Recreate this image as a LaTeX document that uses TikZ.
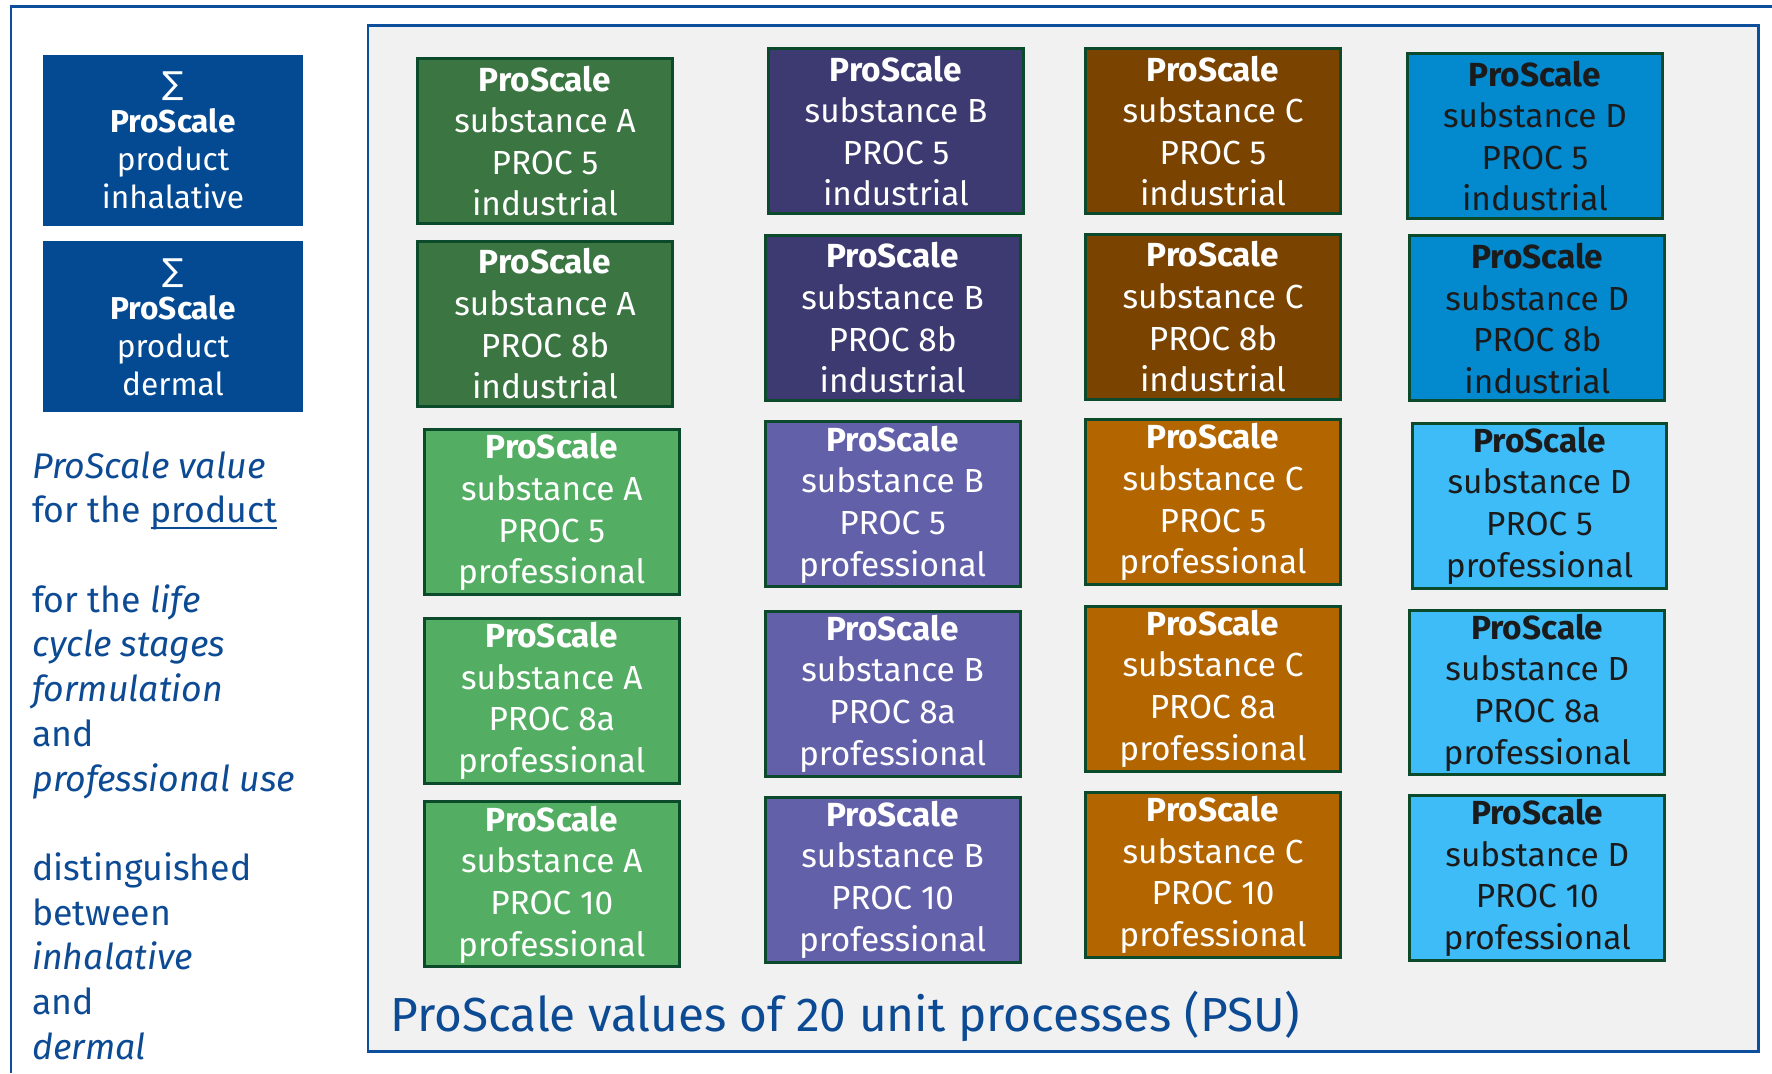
\documentclass[tikz,border=0pt]{standalone}
\usepackage{fontspec}
\setmainfont{Fira Sans}
\newfontfamily\symfont{DejaVu Sans}
\usetikzlibrary{positioning}
\definecolor{frameblue}{HTML}{0D4F9C}
\definecolor{textblue}{HTML}{0C4A94}
\definecolor{sumblue}{HTML}{034A93}
\definecolor{panelgray}{HTML}{F1F1F1}
\definecolor{psuedge}{HTML}{0B4B2B}
\definecolor{greendark}{HTML}{3A7542}
\definecolor{greenlight}{HTML}{53AD62}
\definecolor{violetdark}{HTML}{3C3A70}
\definecolor{violetlight}{HTML}{6360AA}
\definecolor{browndark}{HTML}{7A4400}
\definecolor{brownlight}{HTML}{B36500}
\definecolor{cyandark}{HTML}{0289CE}
\definecolor{cyanlight}{HTML}{3DBCF8}
\definecolor{darktext}{HTML}{1B1B1B}
\newcommand{\psutext}[3]{\textbf{ProScale}\\substance #1\\PROC #2\\#3}
\newcommand{\ulword}[1]{\setbox0\hbox{#1}\rlap{\rule[-3.6pt]{\wd0}{1.5pt}}\box0}

\begin{document}
\begin{tikzpicture}[x=0.02cm, y=-0.02cm, on grid,
  frame/.style={draw=frameblue, line width=1.7pt},
  sumbox/.style={fill=sumblue, minimum width=5.2cm, minimum height=3.42cm, inner sep=0pt,
    align=center, text=white, font=\fontsize{18}{21.6}\selectfont},
  psu/.style={draw=psuedge, line width=1.7pt, minimum width=5.1cm, minimum height=3.3cm,
    inner sep=0pt, align=center, text=white, font=\fontsize{19}{23.7}\selectfont},
  aind/.style={psu, fill=greendark}, apro/.style={psu, fill=greenlight},
  bind/.style={psu, fill=violetdark}, bpro/.style={psu, fill=violetlight},
  cind/.style={psu, fill=browndark}, cpro/.style={psu, fill=brownlight},
  dind/.style={psu, fill=cyandark, text=darktext}, dpro/.style={psu, fill=cyanlight, text=darktext}]
\useasboundingbox (0,0) rectangle (1772,1073);
\draw[frame] (1772,6) -| (11,1073);
\draw[frame, fill=panelgray] (368,25) rectangle (1758,1051);

\node[sumbox] (suminh) at (173,140.5) {{\symfont ∑}\\\textbf{ProScale}\\product\\inhalative};
\node[sumbox] (sumder) [below=3.73cm of suminh] {{\symfont ∑}\\\textbf{ProScale}\\product\\dermal};
\node[anchor=north west, inner sep=0pt, align=left, text=textblue,
  font=\fontsize{20.3}{25.45}\selectfont] (legend) at (32,451)
  {\textit{ProScale value}\\for the \ulword{product}\\[25.45pt]
   for the \textit{life}\\\textit{cycle stages}\\\textit{formulation}\\and\\\textit{professional use}\\[25.45pt]
   distinguished\\between\\\textit{inhalative}\\and\\\textit{dermal}};

\node[aind] (a1) at (545,141) {\psutext{A}{5}{industrial}};
\node[aind] (a2) [below=3.66cm of a1] {\psutext{A}{8b}{industrial}};
\node[apro] (a3) [below=3.764cm of a2, xshift=0.136cm] {\psutext{A}{5}{professional}};
\node[apro] (a4) [below=3.776cm of a3] {\psutext{A}{8a}{professional}};
\node[apro] (a5) [below=3.672cm of a4] {\psutext{A}{10}{professional}};

\node[bind] (b1) at (896,131) {\psutext{B}{5}{industrial}};
\node[bind] (b2) [below=3.74cm of b1, xshift=-0.068cm] {\psutext{B}{8b}{industrial}};
\node[bpro] (b3) [below=3.73cm of b2] {\psutext{B}{5}{professional}};
\node[bpro] (b4) [below=3.786cm of b3] {\psutext{B}{8a}{professional}};
\node[bpro] (b5) [below=3.718cm of b4] {\psutext{B}{10}{professional}};

\node[cind] (c1) at (1213,131) {\psutext{C}{5}{industrial}};
\node[cind] (c2) [below=3.718cm of c1] {\psutext{C}{8b}{industrial}};
\node[cpro] (c3) [below=3.706cm of c2] {\psutext{C}{5}{professional}};
\node[cpro] (c4) [below=3.73cm of c3] {\psutext{C}{8a}{professional}};
\node[cpro] (c5) [below=3.728cm of c4] {\psutext{C}{10}{professional}};

\node[dind] (d1) at (1535,136) {\psutext{D}{5}{industrial}};
\node[dind] (d2) [below=3.65cm of d1, xshift=0.046cm] {\psutext{D}{8b}{industrial}};
\node[dpro] (d3) [below=3.742cm of d2, xshift=0.044cm] {\psutext{D}{5}{professional}};
\node[dpro] (d4) [below=3.74cm of d3, xshift=-0.044cm] {\psutext{D}{8a}{professional}};
\node[dpro] (d5) [below=3.706cm of d4] {\psutext{D}{10}{professional}};

\node[anchor=base west, inner sep=0pt, text=textblue, font=\fontsize{27.2}{33}\selectfont]
  (psulabel) at (390,1031) {ProScale values of 20 unit processes (PSU)};
\end{tikzpicture}
\end{document}
